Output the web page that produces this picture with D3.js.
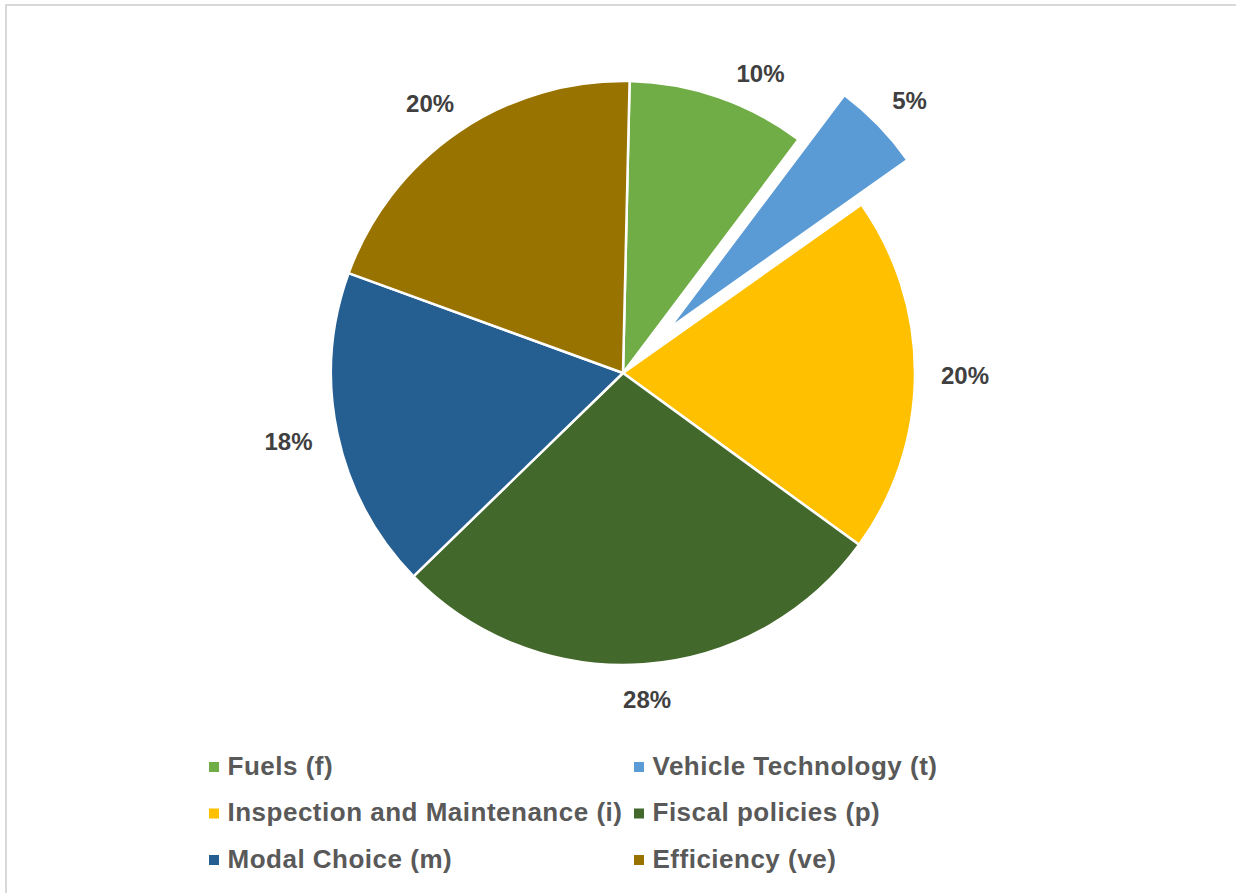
<!DOCTYPE html>
<html>
<head>
<meta charset="utf-8">
<script src="https://cdn.jsdelivr.net/npm/d3@7"></script>
<style>
  html, body { margin: 0; padding: 0; background: #ffffff; }
  svg { display: block; }
</style>
</head>
<body>
<svg id="chart" width="1236" height="893"></svg>
<script>
// Share of measures by category (percent labels)
const categories = [
  "Fuels (f)",
  "Vehicle Technology (t)",
  "Inspection and Maintenance (i)",
  "Fiscal policies (p)",
  "Modal Choice (m)",
  "Efficiency (ve)"
];
const values = [10, 5, 20, 28, 18, 20];
const valueLabels = ["10%", "5%", "20%", "28%", "18%", "20%"];
const colors = ["#70ad47", "#5b9bd5", "#ffc000", "#43682b", "#255e91", "#997300"];
const explodedIndex = 1;

const W = 1236, H = 893;
const cx = 623, cy = 373, R = 292;
const explode = 64;
const startDeg = 1.3;

const svg = d3.select("#chart");

// chart-area border
svg.append("rect")
  .attr("x", 6).attr("y", 5)
  .attr("width", W + 10).attr("height", H + 10)
  .attr("fill", "#ffffff")
  .attr("stroke", "#d9d9d9")
  .attr("stroke-width", 2);

const data = categories.map((c, i) => ({ name: c, value: values[i], label: valueLabels[i], color: colors[i], idx: i }));

const start = startDeg * Math.PI / 180;
const pie = d3.pie()
  .sort(null)
  .value(d => d.value)
  .startAngle(start)
  .endAngle(start + 2 * Math.PI);

const arcs = pie(data);
const arc = d3.arc().innerRadius(0).outerRadius(R);

const g = svg.append("g").attr("transform", `translate(${cx},${cy})`);

function offsetOf(d) {
  if (d.data.idx !== explodedIndex) return [0, 0];
  const a = (d.startAngle + d.endAngle) / 2;
  return [Math.sin(a) * explode, -Math.cos(a) * explode];
}

g.selectAll("path.slice")
  .data(arcs)
  .join("path")
  .attr("class", "slice")
  .attr("d", arc)
  .attr("transform", d => { const o = offsetOf(d); return `translate(${o[0]},${o[1]})`; })
  .attr("fill", d => d.data.color)
  .attr("stroke", "#ffffff")
  .attr("stroke-width", 2.5)
  .attr("stroke-linejoin", "round");

// data labels outside the slices
const labelFont = 24;
const labels = g.selectAll("text.val")
  .data(arcs)
  .join("text")
  .attr("class", "val")
  .attr("text-anchor", "middle")
  .attr("dominant-baseline", "central")
  .attr("font-family", "'Liberation Sans', Arial, sans-serif")
  .attr("font-weight", "bold")
  .attr("font-size", labelFont)
  .attr("fill", "#404040")
  .text(d => d.data.label);

labels.each(function(d) {
  const t = d3.select(this);
  const w = this.getComputedTextLength();
  const h = 18;
  let a = (d.startAngle + d.endAngle) / 2;
  // narrow slice next to the exploded one: keep its label clear of the gap
  if (d.data.idx === (explodedIndex + data.length - 1) % data.length) a += 0.08;
  const o = offsetOf(d);
  const r0 = R + 26;
  const x = o[0] + Math.sin(a) * r0 + Math.sin(a) * w / 2;
  const y = o[1] - Math.cos(a) * r0 - Math.cos(a) * h / 2;
  t.attr("x", x).attr("y", y);
});

// legend, two columns
const legendCols = [209, 634];
const legendRows = [762, 808.5, 855];
const legend = svg.append("g");
data.forEach((d, i) => {
  const col = i % 2, row = Math.floor(i / 2);
  const lx = legendCols[col], ly = legendRows[row];
  legend.append("rect")
    .attr("x", lx).attr("y", ly)
    .attr("width", 10).attr("height", 10)
    .attr("fill", d.color);
  legend.append("text")
    .attr("x", lx + 18.5)
    .attr("y", ly + 12.5)
    .attr("font-family", "'Liberation Sans', Arial, sans-serif")
    .attr("font-weight", "bold")
    .attr("font-size", 26)
    .attr("letter-spacing", 0.5)
    .attr("fill", "#595959")
    .text(d.name);
});
</script>
</body>
</html>
